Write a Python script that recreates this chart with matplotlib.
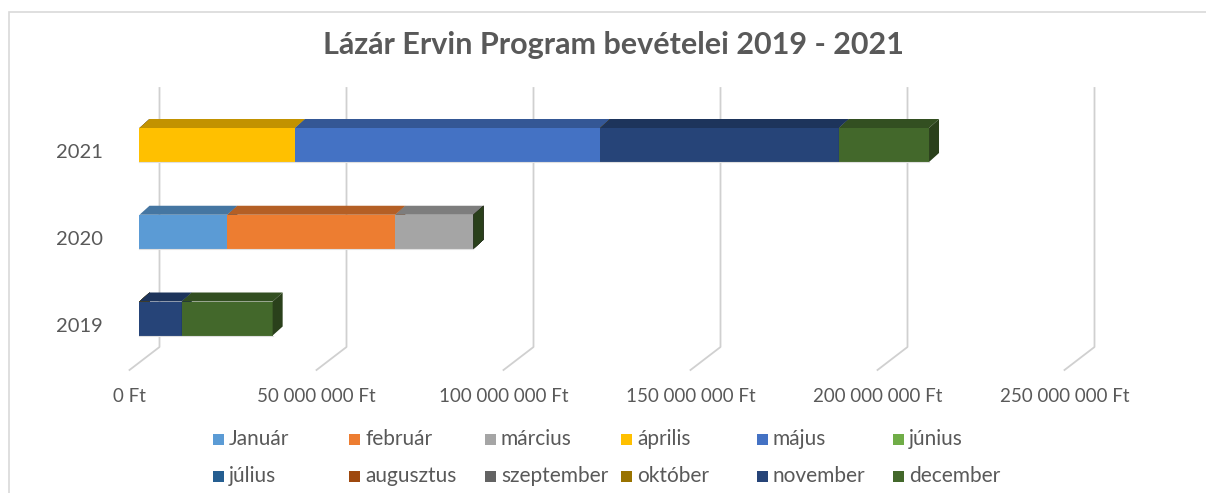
import matplotlib.pyplot as plt
from matplotlib.patches import Polygon, Rectangle
import numpy as np

plt.rcParams['font.family'] = ['Lato', 'DejaVu Sans']

years = ['2019', '2020', '2021']
months = ['Január', 'február', 'március', 'április', 'május', 'június',
          'július', 'augusztus', 'szeptember', 'október', 'november', 'december']
colors = ['#5B9BD5', '#ED7D31', '#A5A5A5', '#FFC000', '#4472C4', '#70AD47',
          '#255E91', '#9E480E', '#636363', '#997300', '#264478', '#43682B']

# bevételek havonta (Ft), soronként: 2019, 2020, 2021
rev_2019 = [0, 0, 0, 0, 0, 0, 0, 0, 0, 0, 11.3e6, 24.3e6]
rev_2020 = [23.5e6, 44.9e6, 20.9e6, 0, 0, 0, 0, 0, 0, 0, 0, 0]
rev_2021 = [0, 0, 0, 41.6e6, 81.6e6, 0, 0, 0, 0, 0, 63.8e6, 24.1e6]
ticks = [0, 50e6, 100e6, 150e6, 200e6, 250e6]
tick_labels = ['0 Ft', '50 000 000 Ft', '100 000 000 Ft', '150 000 000 Ft',
               '200 000 000 Ft', '250 000 000 Ft']

W, H = 1206, 493
fig = plt.figure(figsize=(W / 100, H / 100), dpi=100)
ax = fig.add_axes([0, 0, 1, 1])
ax.axis('off')

# pixel mapping
x0px, pxM = 139.5, 187 / 50e6      # px per Ft
y0px, pxC = 318.5, 86.75           # px per category
ax.set_xlim(-x0px / pxM, (W - x0px) / pxM)
ax.set_ylim((y0px - H) / pxC, y0px / pxC)

def X(px):
    return px / pxM

def Y(py):
    return (y0px - py) / pxC

dx, dy = X(10), 9 / pxC
h = 34 / pxC

def shade(c, f):
    rgb = np.array(plt.matplotlib.colors.to_rgb(c))
    return tuple(rgb * f)

# gridlines (back wall + floor)
grid_c = '#d0d0d0'
for t in ticks:
    xb = t + X(20)
    xf = t - X(10)
    ax.plot([xb, xb, xf], [Y(88), Y(347), Y(370)], color=grid_c, lw=1.3, zorder=1)

for t, lab in zip(ticks, tick_labels):
    ax.text(t - X(10), Y(397), lab, ha='center', va='center', fontsize=13.5,
            color='#595959')

data = [rev_2019, rev_2020, rev_2021]
for i, row in enumerate(data):
    left = 0
    for m, v in enumerate(row):
        c = colors[m]
        yb, yt = i - h / 2, i + h / 2
        if v > 0:
            ax.add_patch(Rectangle((left, yb), v, h, facecolor=c, edgecolor='none', zorder=3))
            ax.add_patch(Polygon([(left, yt), (left + v, yt), (left + v + dx, yt + dy),
                                  (left + dx, yt + dy)], closed=True,
                                 facecolor=shade(c, 0.76), edgecolor='none', zorder=3))
        end = left + v
        ax.add_patch(Polygon([(end, yb), (end + dx, yb + dy), (end + dx, yt + dy), (end, yt)],
                             closed=True, facecolor=shade(c, 0.62), edgecolor='none', zorder=3))
        left = end
    ax.plot([0, left], [i - h / 2, i - h / 2], color='#e0e0e0', lw=0.8, zorder=4)
    ax.text(X(103 - x0px), i - 8 / pxC, years[i], ha='right', va='center', fontsize=14.5,
            color='#595959')

fig.text(613 / W, 1 - 45 / H, 'Lázár Ervin Program bevételei 2019 - 2021',
         ha='center', va='center', fontsize=22, fontweight='bold', color='#595959')

# legend
for m, name in enumerate(months):
    col, r = m % 6, m // 6
    lx = 213 + col * 136
    ly = 439 + r * 37
    fig.patches.append(Rectangle((lx / W, 1 - (ly + 5.5) / H), 11 / W, 11 / H,
                                 transform=fig.transFigure, facecolor=colors[m],
                                 edgecolor='none'))
    fig.text((lx + 16) / W, 1 - ly / H, name, ha='left', va='center',
             fontsize=15, color='#595959')

fig.patches.append(Rectangle((9 / W, -0.1), 1.2, 1 - 12 / H + 0.1,
                             transform=fig.transFigure, facecolor='none',
                             edgecolor='#d9d9d9', lw=1.2))

fig.savefig('out.png', dpi=100)
